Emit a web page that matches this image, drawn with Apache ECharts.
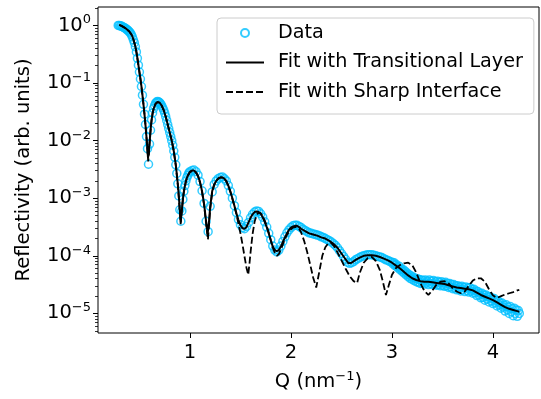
<!DOCTYPE html>
<html><head><meta charset="utf-8">
<script src="https://cdn.jsdelivr.net/npm/echarts@6/dist/echarts.min.js"></script>
<style>html,body{margin:0;padding:0;background:#fff}#c{width:541px;height:399px}</style>
</head><body><div id="c"></div>
<script>
// x tick values (Q, nm^-1)
const qTicks = [1, 2, 3, 4];
// y tick values (reflectivity)
const yMajorTicks = [1e-5, 1e-4, 1e-3, 1e-2, 1e-1, 1];
const yMinorTicks = [5e-6, 6e-6, 7e-6, 8e-6, 9e-6,
  2e-5, 3e-5, 4e-5, 5e-5, 6e-5, 7e-5, 8e-5, 9e-5,
  2e-4, 3e-4, 4e-4, 5e-4, 6e-4, 7e-4, 8e-4, 9e-4,
  2e-3, 3e-3, 4e-3, 5e-3, 6e-3, 7e-3, 8e-3, 9e-3,
  2e-2, 3e-2, 4e-2, 5e-2, 6e-2, 7e-2, 8e-2, 9e-2,
  0.2, 0.3, 0.4, 0.5, 0.6, 0.7, 0.8, 0.9, 2];

const measured = [
[0.29,0.00],[0.30,0.00],[0.31,-0.01],[0.32,-0.01],[0.33,-0.02],[0.34,-0.03],[0.35,-0.04],[0.36,-0.05],[0.37,-0.06],[0.38,-0.08],
[0.39,-0.09],[0.40,-0.11],[0.41,-0.13],[0.42,-0.16],[0.43,-0.20],[0.44,-0.25],[0.45,-0.30],[0.46,-0.37],[0.47,-0.46],[0.48,-0.57],
[0.49,-0.69],[0.50,-0.81],[0.51,-0.93],[0.52,-1.06],[0.53,-1.21],[0.54,-1.37],[0.55,-1.54],[0.56,-1.72],[0.57,-1.93],[0.58,-2.14],
[0.59,-2.41],[0.60,-2.06],[0.61,-1.82],[0.62,-1.64],[0.63,-1.52],[0.64,-1.44],[0.65,-1.39],[0.66,-1.35],[0.67,-1.33],[0.68,-1.32],
[0.69,-1.33],[0.70,-1.34],[0.71,-1.36],[0.72,-1.39],[0.73,-1.43],[0.74,-1.47],[0.75,-1.52],[0.76,-1.58],[0.77,-1.65],[0.78,-1.72],
[0.79,-1.79],[0.80,-1.86],[0.81,-1.93],[0.82,-2.00],[0.83,-2.08],[0.84,-2.18],[0.85,-2.29],[0.86,-2.42],[0.87,-2.57],[0.88,-2.75],
[0.89,-2.96],[0.90,-3.20],[0.91,-3.40],[0.92,-3.22],[0.93,-3.02],[0.94,-2.88],[0.95,-2.78],[0.96,-2.70],[0.97,-2.64],[0.98,-2.60],
[0.99,-2.56],[1.00,-2.54],
[1.02,-2.52],[1.04,-2.51],[1.06,-2.54],[1.08,-2.60],[1.10,-2.71],[1.12,-2.87],[1.14,-3.09],[1.16,-3.40],[1.18,-3.58],[1.20,-3.14],
[1.22,-2.89],[1.24,-2.76],[1.26,-2.70],[1.28,-2.66],[1.30,-2.64],[1.32,-2.63],[1.34,-2.66],[1.36,-2.70],[1.38,-2.78],[1.40,-2.88],
[1.42,-3.00],[1.44,-3.13],[1.46,-3.25],[1.48,-3.37],[1.50,-3.46],[1.52,-3.51],[1.54,-3.53],[1.56,-3.49],[1.58,-3.42],[1.60,-3.34],
[1.62,-3.28],[1.64,-3.24],[1.66,-3.22],[1.68,-3.23],[1.70,-3.27],[1.72,-3.33],[1.74,-3.41],[1.76,-3.50],[1.78,-3.61],[1.80,-3.72],
[1.82,-3.83],[1.84,-3.90],[1.86,-3.93],[1.88,-3.90],[1.90,-3.83],[1.92,-3.75],[1.94,-3.67],[1.96,-3.60],[1.98,-3.55],[2.00,-3.51],
[2.02,-3.48],[2.04,-3.47],[2.06,-3.47],[2.08,-3.49],[2.10,-3.51],[2.12,-3.54],[2.14,-3.56],[2.16,-3.58],[2.18,-3.60],[2.20,-3.61],
[2.22,-3.62],[2.24,-3.63],[2.26,-3.64],[2.28,-3.65],[2.30,-3.67],[2.32,-3.68],[2.34,-3.70],[2.36,-3.72],[2.38,-3.74],[2.40,-3.76],
[2.42,-3.79],[2.44,-3.82],[2.46,-3.86],[2.48,-3.91],[2.50,-3.96],[2.52,-4.01],[2.54,-4.06],[2.56,-4.11],[2.58,-4.13],[2.60,-4.12],
[2.62,-4.10],[2.64,-4.07],[2.66,-4.05],[2.68,-4.03],[2.70,-4.01],[2.72,-4.00],[2.74,-3.99],[2.76,-3.98],[2.78,-3.98],[2.80,-3.98],
[2.82,-3.99],[2.84,-4.00],[2.86,-4.01],[2.88,-4.02],[2.90,-4.03],[2.92,-4.05],[2.94,-4.07],[2.96,-4.08],[2.98,-4.10],
[3.00,-4.11],[3.01,-4.14],[3.02,-4.12],[3.03,-4.17],[3.04,-4.15],[3.05,-4.19],[3.06,-4.21],[3.07,-4.18],[3.08,-4.24],[3.09,-4.22],
[3.10,-4.27],[3.11,-4.24],[3.12,-4.30],[3.13,-4.27],[3.14,-4.33],[3.15,-4.30],[3.16,-4.36],[3.17,-4.33],[3.18,-4.39],[3.19,-4.35],
[3.20,-4.41],[3.21,-4.37],[3.22,-4.43],[3.23,-4.39],[3.24,-4.45],[3.25,-4.40],[3.26,-4.46],[3.27,-4.41],[3.28,-4.48],[3.29,-4.42],
[3.30,-4.47],[3.31,-4.43],[3.32,-4.49],[3.33,-4.42],[3.34,-4.47],[3.35,-4.44],[3.36,-4.50],[3.37,-4.42],[3.38,-4.48],[3.39,-4.44],
[3.40,-4.50],[3.41,-4.43],[3.42,-4.49],[3.43,-4.45],[3.44,-4.51],[3.45,-4.44],[3.46,-4.50],[3.47,-4.46],[3.48,-4.52],[3.49,-4.45],
[3.50,-4.51],[3.51,-4.47],[3.52,-4.53],[3.53,-4.46],[3.54,-4.52],[3.55,-4.48],[3.56,-4.55],[3.57,-4.48],[3.58,-4.54],[3.59,-4.50],
[3.60,-4.57],[3.61,-4.50],[3.62,-4.56],[3.63,-4.52],[3.64,-4.59],[3.65,-4.52],[3.66,-4.58],[3.67,-4.54],[3.68,-4.61],[3.69,-4.53],
[3.70,-4.59],[3.71,-4.55],[3.72,-4.62],[3.73,-4.54],[3.74,-4.60],[3.75,-4.56],[3.76,-4.63],[3.77,-4.55],[3.78,-4.61],[3.79,-4.58],
[3.80,-4.65],[3.81,-4.58],[3.82,-4.64],[3.83,-4.61],[3.84,-4.69],[3.85,-4.62],[3.86,-4.68],[3.87,-4.65],[3.88,-4.73],[3.89,-4.65],
[3.90,-4.72],[3.91,-4.68],[3.92,-4.77],[3.93,-4.68],[3.94,-4.75],[3.95,-4.71],[3.96,-4.80],[3.97,-4.71],[3.98,-4.78],[3.99,-4.74],
[4.00,-4.83],[4.01,-4.74],[4.02,-4.81],[4.03,-4.78],[4.04,-4.87],[4.05,-4.78],[4.06,-4.85],[4.07,-4.82],[4.08,-4.91],[4.09,-4.82],
[4.10,-4.89],[4.11,-4.86],[4.12,-4.96],[4.13,-4.85],[4.14,-4.93],[4.15,-4.89],[4.16,-5.00],[4.17,-4.88],[4.18,-4.97],[4.19,-4.92],
[4.20,-5.04],[4.21,-4.91],[4.22,-5.00],[4.23,-4.94],[4.24,-5.05],[4.25,-4.95],[4.26,-5.00]
];

// Fit with transitional layer: [Q, log10(R)]
const fitTransitional = [
[0.30,0.01],[0.32,-0.005],[0.34,-0.025],[0.36,-0.045],[0.38,-0.075],[0.40,-0.105],[0.42,-0.155],[0.43,-0.19],[0.44,-0.24],[0.45,-0.30],
[0.46,-0.37],[0.47,-0.46],[0.48,-0.57],[0.49,-0.69],[0.50,-0.81],[0.51,-0.93],[0.52,-1.06],[0.53,-1.21],[0.54,-1.37],[0.55,-1.54],
[0.56,-1.73],[0.57,-1.94],[0.58,-2.17],[0.585,-2.30],[0.59,-2.25],[0.60,-2.04],[0.61,-1.82],[0.62,-1.65],[0.63,-1.53],[0.64,-1.45],
[0.66,-1.36],[0.68,-1.33],[0.70,-1.34],[0.72,-1.39],[0.74,-1.47],[0.76,-1.58],[0.78,-1.72],[0.80,-1.86],[0.82,-2.00],[0.84,-2.18],
[0.86,-2.42],[0.88,-2.75],[0.89,-2.96],[0.90,-3.20],[0.908,-3.42],[0.92,-3.20],[0.93,-3.02],[0.94,-2.88],[0.96,-2.70],[0.98,-2.60],
[1.00,-2.54],[1.02,-2.52],[1.04,-2.52],[1.06,-2.55],[1.08,-2.61],[1.10,-2.72],[1.12,-2.88],[1.14,-3.10],[1.16,-3.40],[1.175,-3.62],
[1.19,-3.38],[1.20,-3.16],[1.22,-2.88],[1.24,-2.76],[1.26,-2.70],[1.28,-2.66],[1.30,-2.64],[1.32,-2.64],[1.34,-2.66],[1.36,-2.70],
[1.38,-2.78],[1.40,-2.88],[1.42,-3.00],[1.44,-3.13],[1.46,-3.26],[1.48,-3.38],[1.50,-3.47],[1.52,-3.52],[1.54,-3.53],[1.56,-3.50],
[1.58,-3.42],[1.60,-3.34],[1.62,-3.28],[1.64,-3.24],[1.66,-3.23],[1.68,-3.24],[1.70,-3.27],[1.72,-3.33],[1.74,-3.41],[1.76,-3.50],
[1.78,-3.61],[1.80,-3.73],[1.82,-3.84],[1.84,-3.90],[1.86,-3.92],[1.88,-3.90],[1.90,-3.84],[1.92,-3.76],[1.94,-3.68],[1.96,-3.61],
[1.98,-3.55],[2.00,-3.51],[2.02,-3.49],[2.04,-3.48],[2.06,-3.48],[2.08,-3.50],[2.10,-3.53],[2.14,-3.57],[2.18,-3.61],[2.22,-3.63],
[2.26,-3.65],[2.30,-3.68],[2.34,-3.70],[2.38,-3.74],[2.42,-3.79],[2.46,-3.86],[2.50,-3.96],[2.54,-4.06],[2.57,-4.13],[2.60,-4.12],
[2.64,-4.07],[2.68,-4.03],[2.72,-4.00],[2.76,-3.99],[2.80,-3.99],[2.84,-4.00],[2.88,-4.02],[2.92,-4.05],[2.96,-4.08],[3.00,-4.12],
[3.04,-4.17],[3.08,-4.22],[3.12,-4.28],[3.16,-4.34],[3.20,-4.39],[3.24,-4.42],[3.28,-4.44],[3.32,-4.45],[3.36,-4.45],[3.40,-4.46],
[3.44,-4.47],[3.48,-4.48],[3.52,-4.49],[3.56,-4.51],[3.60,-4.53],[3.64,-4.55],[3.68,-4.56],[3.72,-4.57],[3.76,-4.58],[3.80,-4.60],
[3.84,-4.64],[3.88,-4.68],[3.92,-4.71],[3.96,-4.74],[4.00,-4.77],[4.04,-4.81],[4.08,-4.85],[4.12,-4.89],[4.16,-4.92],[4.20,-4.94],
[4.24,-4.96],[4.26,-4.97]
];

// Fit with sharp interface: [Q, log10(R)]
const fitSharp = [
[0.30,0.01],[0.32,-0.005],[0.34,-0.025],[0.36,-0.045],[0.38,-0.075],[0.40,-0.105],[0.42,-0.155],[0.43,-0.19],[0.44,-0.24],[0.45,-0.30],
[0.46,-0.37],[0.47,-0.46],[0.48,-0.57],[0.49,-0.69],[0.50,-0.81],[0.51,-0.93],[0.52,-1.06],[0.53,-1.21],[0.54,-1.37],[0.55,-1.54],
[0.56,-1.73],[0.57,-1.95],[0.58,-2.20],[0.587,-2.36],[0.595,-2.22],[0.60,-2.06],[0.61,-1.83],[0.62,-1.65],[0.63,-1.53],[0.64,-1.45],
[0.66,-1.36],[0.68,-1.33],[0.70,-1.34],[0.72,-1.39],[0.74,-1.47],[0.76,-1.58],[0.78,-1.72],[0.80,-1.86],[0.82,-2.00],[0.84,-2.18],
[0.86,-2.43],[0.88,-2.77],[0.89,-3.00],[0.90,-3.25],[0.908,-3.45],[0.92,-3.22],[0.93,-3.03],[0.94,-2.89],[0.96,-2.71],[0.98,-2.61],
[1.00,-2.55],[1.02,-2.53],[1.04,-2.53],[1.06,-2.56],[1.08,-2.62],[1.10,-2.73],[1.12,-2.89],[1.14,-3.12],[1.16,-3.44],[1.178,-3.72],
[1.19,-3.45],[1.20,-3.20],[1.22,-2.90],[1.24,-2.77],[1.26,-2.70],[1.28,-2.66],[1.30,-2.64],[1.32,-2.64],[1.34,-2.66],[1.36,-2.71],
[1.38,-2.79],[1.40,-2.89],[1.42,-3.01],[1.44,-3.14],[1.46,-3.28],[1.48,-3.44],[1.50,-3.61],[1.52,-3.80],[1.54,-4.01],[1.56,-4.21],
[1.577,-4.33],[1.59,-4.12],[1.60,-3.94],[1.62,-3.62],[1.64,-3.41],[1.66,-3.29],[1.68,-3.25],[1.70,-3.26],[1.72,-3.31],[1.74,-3.39],
[1.76,-3.48],[1.78,-3.60],[1.80,-3.73],[1.82,-3.86],[1.84,-3.95],[1.86,-4.00],[1.88,-3.97],[1.90,-3.89],[1.92,-3.80],[1.94,-3.71],
[1.96,-3.64],[1.98,-3.58],[2.00,-3.54],[2.02,-3.51],[2.04,-3.50],[2.06,-3.50],[2.08,-3.53],[2.10,-3.59],[2.13,-3.74],[2.16,-3.93],
[2.19,-4.15],[2.22,-4.38],[2.25,-4.55],[2.28,-4.28],[2.31,-4.00],[2.34,-3.85],[2.37,-3.78],[2.40,-3.78],[2.43,-3.84],[2.46,-3.94],
[2.50,-4.08],[2.54,-4.22],[2.58,-4.35],[2.62,-4.44],[2.655,-4.47],[2.68,-4.30],[2.72,-4.12],[2.76,-4.04],[2.80,-4.02],[2.84,-4.09],
[2.88,-4.25],[2.91,-4.45],[2.94,-4.68],[2.97,-4.50],[3.00,-4.33],[3.04,-4.21],[3.08,-4.16],[3.12,-4.13],[3.16,-4.12],[3.20,-4.16],
[3.24,-4.29],[3.28,-4.47],[3.32,-4.61],[3.36,-4.68],[3.40,-4.60],[3.44,-4.50],[3.48,-4.45],[3.52,-4.44],[3.56,-4.48],[3.60,-4.56],
[3.64,-4.62],[3.68,-4.65],[3.72,-4.62],[3.76,-4.52],[3.80,-4.43],[3.84,-4.39],[3.88,-4.39],[3.92,-4.45],[3.96,-4.58],[4.00,-4.69],
[4.04,-4.73],[4.08,-4.70],[4.12,-4.67],[4.16,-4.65],[4.20,-4.63],[4.24,-4.60],[4.26,-4.59]
];

const toR = p => [p[0], Math.pow(10, p[1])];
const FONT = 'DejaVu Sans';
const Y_MIN = 4.57e-6, Y_MAX = 2.09;
const supRich = { sup: { fontSize: 13, lineHeight: 13, verticalAlign: 'top', fontFamily: FONT, color: '#000' } };
const hiddenMarker = { color: 'rgba(0,0,0,0)', borderWidth: 0, borderColor: 'rgba(0,0,0,0)' };

const chart = echarts.init(document.getElementById('c'), null, { renderer: 'canvas' });
chart.setOption({
  animation: false,
  backgroundColor: '#fff',
  grid: { left: 98, right: 2, top: 7, bottom: 61, show: true, borderColor: '#000', borderWidth: 1, backgroundColor: 'transparent' },
  xAxis: {
    type: 'value', min: 0.09, max: 4.455,
    axisLine: { show: false }, splitLine: { show: false },
    axisTick: { customValues: qTicks, length: 5, lineStyle: { color: '#000', width: 1 } },
    axisLabel: { customValues: qTicks, fontSize: 19.5, color: '#000', fontFamily: FONT, margin: 10 },
    name: 'Q (nm{sup|\u22121})', nameLocation: 'middle', nameGap: 37,
    nameTextStyle: { fontSize: 19.5, color: '#000', fontFamily: FONT, lineHeight: 24, rich: supRich }
  },
  yAxis: [{
    type: 'log', min: Y_MIN, max: Y_MAX, position: 'left',
    axisLine: { show: false }, splitLine: { show: false }, minorTick: { show: false },
    axisTick: { customValues: yMajorTicks, length: 5, lineStyle: { color: '#000', width: 1 } },
    axisLabel: {
      customValues: yMajorTicks, fontSize: 19.5, color: '#000', fontFamily: FONT, margin: 7, lineHeight: 24, rich: supRich,
      formatter: v => { const e = Math.round(Math.log10(v)); return '10{sup|' + (e < 0 ? '\u2212' + (-e) : String(e)) + '}'; }
    },
    name: 'Reflectivity (arb. units)', nameLocation: 'middle', nameGap: 64,
    nameTextStyle: { fontSize: 19.5, color: '#000', fontFamily: FONT }
  }, {
    type: 'log', min: Y_MIN, max: Y_MAX, position: 'left',
    axisLine: { show: false }, splitLine: { show: false }, axisLabel: { show: false },
    axisTick: { customValues: yMinorTicks, length: 3, lineStyle: { color: '#000', width: 0.8 } }
  }],
  legend: {
    left: 217, top: 18, orient: 'vertical',
    itemWidth: 38, itemHeight: 8, itemGap: 9.5, padding: [5, 11, 12, 8],
    backgroundColor: 'rgba(255,255,255,0.8)', borderColor: '#cccccc', borderWidth: 1, borderRadius: 4,
    textStyle: { fontSize: 19.2, fontFamily: FONT, color: '#000', lineHeight: 20, padding: [0, 0, 0, 9] },
    data: [
      { name: 'Data' },
      { name: 'Fit with Transitional Layer', itemStyle: hiddenMarker },
      { name: 'Fit with Sharp Interface', itemStyle: hiddenMarker }
    ]
  },
  series: [{
    name: 'Data', type: 'scatter', data: measured.map(toR), yAxisIndex: 0,
    symbol: 'circle', symbolSize: 8,
    itemStyle: { color: 'rgba(0,0,0,0)', borderColor: '#00bfff', borderWidth: 1.5 }, z: 2
  }, {
    name: 'Fit with Transitional Layer', type: 'line', data: fitTransitional.map(toR), yAxisIndex: 0,
    symbol: 'none', showSymbol: false,
    lineStyle: { color: '#000', width: 2 }, itemStyle: { color: '#000' }, z: 3
  }, {
    name: 'Fit with Sharp Interface', type: 'line', data: fitSharp.map(toR), yAxisIndex: 0,
    symbol: 'none', showSymbol: false,
    lineStyle: { color: '#000', width: 1.8, type: [7, 3] }, itemStyle: { color: '#000' }, z: 4
  }]
});
</script></body></html>
